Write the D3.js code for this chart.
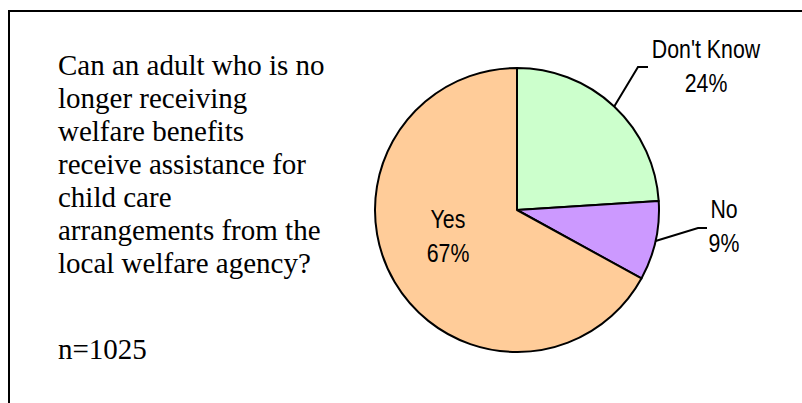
<!DOCTYPE html>
<html>
<head>
<meta charset="utf-8">
<script src="https://d3js.org/d3.v7.min.js"></script>
<style>
  body { margin: 0; background: #fff; }
  .question { font-family: "Liberation Serif", "Times New Roman", serif; font-size: 29px; fill: #000; }
  .slice_label { font-family: "Liberation Sans", Arial, sans-serif; font-size: 26px; fill: #000; }
</style>
</head>
<body>
<svg id="chart" width="802" height="403"></svg>
<script>
// data
const categories = ["Don't Know", "No", "Yes"];
const percents = [24, 9, 67];
const colors = ["#CCFFCC", "#CC99FF", "#FFCC99"];
const questionLines = [
  "Can an adult who is no",
  "longer receiving",
  "welfare benefits",
  "receive assistance for",
  "child care",
  "arrangements from the",
  "local welfare agency?"
];
const sampleNote = "n=1025";

const svg = d3.select("#chart");

// outer frame (right and bottom edges run off the page)
svg.append("rect")
  .attr("x", 9).attr("y", 11)
  .attr("width", 850).attr("height", 450)
  .attr("fill", "none")
  .attr("stroke", "#000")
  .attr("stroke-width", 2);

// question text on the left
const q = svg.append("g");
q.selectAll("text")
  .data(questionLines)
  .enter()
  .append("text")
  .attr("class", "question")
  .attr("x", 58)
  .attr("y", (d, i) => 75 + i * 33)
  .text(d => d);

q.append("text")
  .attr("class", "question")
  .attr("x", 58)
  .attr("y", 359)
  .text(sampleNote);

// pie
const cx = 517, cy = 210, radius = 142;
const pie = d3.pie().sort(null).value(d => d.value);
const arc = d3.arc().innerRadius(0).outerRadius(radius);
const edge = d3.arc().innerRadius(radius).outerRadius(radius);

const slices = pie(categories.map((c, i) => ({name: c, value: percents[i], color: colors[i]})));

const g = svg.append("g").attr("transform", `translate(${cx},${cy})`);

g.selectAll("path")
  .data(slices)
  .enter()
  .append("path")
  .attr("d", arc)
  .attr("fill", d => d.data.color)
  .attr("stroke", "#000")
  .attr("stroke-width", 2)
  .attr("stroke-linejoin", "round");

// label placement (relative to pie centre); null elbow = label inside slice
const labelLayout = {
  "Don't Know": {x: 189, y: -152, elbow: [121, -143], end: [131, -143]},
  "No": {x: 207, y: 8, elbow: [181, 18], end: [190, 18]},
  "Yes": {x: -69, y: 18, elbow: null}
};

slices.forEach(d => {
  const L = labelLayout[d.data.name];
  if (L.elbow) {
    const p = edge.centroid(d);
    g.append("polyline")
      .attr("points", [p, L.elbow, L.end].map(pt => pt.join(",")).join(" "))
      .attr("fill", "none")
      .attr("stroke", "#000")
      .attr("stroke-width", 2);
  }
  // the original uses a narrow sans, so squeeze the text horizontally
  const t = g.append("text")
    .attr("class", "slice_label")
    .attr("text-anchor", "middle")
    .attr("transform", `translate(${L.x},${L.y}) scale(0.82,1)`);
  t.append("tspan").attr("x", 0).attr("dy", 0).text(d.data.name);
  t.append("tspan").attr("x", 0).attr("dy", 34).text(d.data.value + "%");
});
</script>
</body>
</html>
